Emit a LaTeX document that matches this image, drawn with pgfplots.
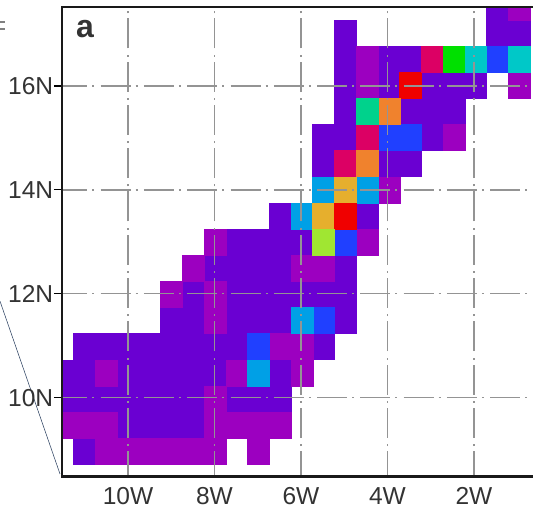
\documentclass[border=0pt]{standalone}
\usepackage{fontspec}
\setmainfont{Liberation Sans}
\usepackage{pgfplots}
\pgfplotsset{compat=1.18}
\definecolor{cV}{HTML}{6A00D2}
\definecolor{cM}{HTML}{9C00C0}
\definecolor{cBlue}{HTML}{2040FF}
\definecolor{cSky}{HTML}{00A0E6}
\definecolor{cGold}{HTML}{E6AF2D}
\definecolor{cRed}{HTML}{F00000}
\definecolor{cLime}{HTML}{A0E632}
\definecolor{cCrim}{HTML}{DC0064}
\definecolor{cOrange}{HTML}{F0822D}
\definecolor{cMint}{HTML}{00D28C}
\definecolor{cGreen}{HTML}{00E000}
\definecolor{cTeal}{HTML}{00C8C8}
\definecolor{txt}{HTML}{333333}
\definecolor{diag}{HTML}{2A3F5F}
\pgfplotsset{cell/.style={only marks, mark=square*, mark size=8.155pt,
  mark options={yscale=1.2012, draw=#1, fill=#1, line width=0.2pt}}}
\begin{document}
\begin{tikzpicture}[x=1pt,y=1pt]
\clip[use as bounding box] (-46.5,-23.625) rectangle (353.25,357.375);
\draw[color=diag, line width=0.4pt] (-46.5,131.5) -- (-1.5,1.9);
\draw[gray, line width=1pt] (-46.5,340.9) -- (-43,340.9) (-46.5,335.6) -- (-43,335.6);
\begin{axis}[
  at={(0pt,0pt)}, anchor=south west,
  scale only axis, width=358.5pt, height=352.125pt,
  xmin=-11.526, xmax=-0.474, ymin=8.483, ymax=17.52,
  axis on top, clip marker paths=true,
  xtick={-10,-8,-6,-4,-2}, xticklabels={10W,8W,6W,4W,2W},
  ytick={10,12,14,16}, yticklabels={10N,12N,14N,16N},
  ytick pos=left, xtick pos=bottom, tick align=outside,
  major tick length=6pt,
  xtick style={draw=none},
  ytick style={line width=0.8pt, color=black},
  grid=major,
  grid style={color=black!42, line width=1pt,
    dash pattern=on 22.5pt off 3.75pt on 1.5pt off 4.7pt, dash phase=3.4pt},
  axis line style={line width=1.9pt, color=black!90},
  tick label style={font=\fontsize{18.4}{18}\selectfont, text=txt, inner sep=0pt},
  x tick label style={yshift=-1.9pt},
  y tick label style={xshift=-0.4pt},
]
\addplot[cell=cV] table[row sep=\\] {x y\\
-11.01 8.97\\
-10.01 9.48\\ -9.50 9.48\\ -9.00 9.48\\ -8.50 9.48\\
-11.52 9.98\\ -11.01 9.98\\ -10.51 9.98\\ -10.01 9.98\\ -9.50 9.98\\ -9.00 9.98\\ -8.50 9.98\\ -7.49 9.98\\ -6.99 9.98\\ -6.49 9.98\\
-11.52 10.48\\ -11.01 10.48\\ -10.01 10.48\\ -9.50 10.48\\ -9.00 10.48\\ -8.50 10.48\\ -7.99 10.48\\ -6.49 10.48\\
-11.01 10.99\\ -10.51 10.99\\ -10.01 10.99\\ -9.50 10.99\\ -9.00 10.99\\ -8.50 10.99\\ -7.99 10.99\\ -7.49 10.99\\ -5.48 10.99\\
-9.00 11.49\\ -8.50 11.49\\ -7.49 11.49\\ -6.99 11.49\\ -6.49 11.49\\ -4.98 11.49\\
-8.50 11.99\\ -7.49 11.99\\ -6.99 11.99\\ -6.49 11.99\\ -5.98 11.99\\ -5.48 11.99\\ -4.98 11.99\\
-7.99 12.49\\ -7.49 12.49\\ -6.99 12.49\\ -6.49 12.49\\ -4.98 12.49\\
-7.49 12.99\\ -6.99 12.99\\ -6.49 12.99\\ -5.98 12.99\\
-6.49 13.50\\ -4.47 13.50\\
-5.48 14.51\\ -3.97 14.51\\ -3.47 14.51\\
-5.48 15.01\\ -4.98 15.01\\ -2.97 15.01\\
-4.98 15.51\\ -3.47 15.51\\ -2.97 15.51\\ -2.46 15.51\\
-4.98 16.01\\ -3.97 16.01\\ -2.97 16.01\\ -2.46 16.01\\ -1.96 16.01\\
-4.98 16.52\\ -3.97 16.52\\ -3.47 16.52\\ -0.45 16.52\\
-4.98 17.02\\ -1.46 17.02\\ -0.95 17.02\\
-1.46 17.52\\
};
\addplot[cell=cM] table[row sep=\\] {x y\\
-9.50 8.47\\ -9.00 8.47\\
-10.51 8.97\\ -10.01 8.97\\ -9.50 8.97\\ -9.00 8.97\\ -8.50 8.97\\ -7.99 8.97\\ -6.99 8.97\\
-11.52 9.48\\ -11.01 9.48\\ -10.51 9.48\\ -7.99 9.48\\ -7.49 9.48\\ -6.99 9.48\\ -6.49 9.48\\
-7.99 9.98\\
-10.51 10.48\\ -7.49 10.48\\ -5.98 10.48\\
-6.49 10.99\\ -5.98 10.99\\
-7.99 11.49\\
-9.00 11.99\\ -7.99 11.99\\
-8.50 12.49\\ -5.98 12.49\\ -5.48 12.49\\
-7.99 12.99\\ -4.47 12.99\\
-3.97 14.00\\
-2.46 15.01\\
-4.47 16.01\\ -0.95 16.01\\
-4.47 16.52\\
-0.95 17.52\\ -0.45 17.52\\
};
\addplot[cell=cBlue] table[row sep=\\] {x y\\
-6.99 10.99\\ -5.48 11.49\\ -4.98 12.99\\ -3.97 15.01\\ -3.47 15.01\\ -0.45 16.01\\ -1.46 16.52\\
};
\addplot[cell=cSky] table[row sep=\\] {x y\\
-6.99 10.48\\ -5.98 11.49\\ -5.98 13.50\\ -5.48 14.00\\ -4.47 14.00\\
};
\addplot[cell=cGold] table[row sep=\\] {x y\\ -5.48 13.50\\ -4.98 14.00\\ };
\addplot[cell=cRed] table[row sep=\\] {x y\\ -4.98 13.50\\ -3.47 16.01\\ };
\addplot[cell=cLime] table[row sep=\\] {x y\\ -5.48 12.99\\ };
\addplot[cell=cCrim] table[row sep=\\] {x y\\ -4.98 14.51\\ -4.47 15.01\\ -2.97 16.52\\ };
\addplot[cell=cOrange] table[row sep=\\] {x y\\ -4.47 14.51\\ -3.97 15.51\\ };
\addplot[cell=cMint] table[row sep=\\] {x y\\ -4.47 15.51\\ };
\addplot[cell=cGreen] table[row sep=\\] {x y\\ -2.46 16.52\\ };
\addplot[cell=cTeal] table[row sep=\\] {x y\\ -1.96 16.52\\ -0.95 16.52\\ };
\end{axis}
\node[font=\fontsize{24}{24}\selectfont\bfseries, text=txt, inner sep=0pt] at (17.25,335.4) {a};
\end{tikzpicture}
\end{document}
